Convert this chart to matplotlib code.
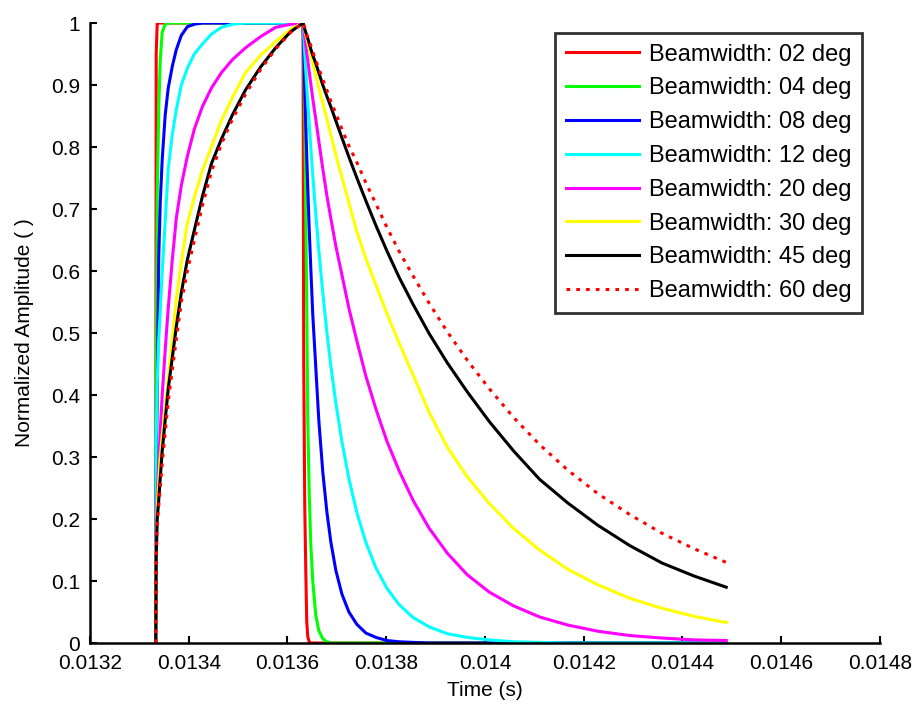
import matplotlib
matplotlib.use('Agg')
import matplotlib.pyplot as plt
from matplotlib.ticker import FormatStrFormatter
import numpy as np

plt.rcParams['font.family'] = ['Liberation Sans', 'DejaVu Sans']

# time grid (s) for the rising edge and for the decay after the peak
t_rise = [0.0133331, 0.0133341, 0.0133362, 0.0133392, 0.0133423, 0.0133463,
          0.0133524, 0.0133585, 0.0133667, 0.0133748, 0.0133850, 0.0133972,
          0.0134114, 0.0134276, 0.0134459, 0.0134663, 0.0134886, 0.0135150,
          0.0135455, 0.0135760, 0.0136065, 0.0136315]
t_decay = [0.0136329, 0.0136350, 0.0136370, 0.0136390, 0.0136411, 0.0136441,
           0.0136472, 0.0136512, 0.0136573, 0.0136634, 0.0136715, 0.0136797,
           0.0136878, 0.0136980, 0.0137102, 0.0137244, 0.0137406, 0.0137589,
           0.0137793, 0.0138016, 0.0138260, 0.0138545, 0.0138870, 0.0139236,
           0.0139642, 0.0140089, 0.0140577, 0.0141106, 0.0141675, 0.0142284,
           0.0142935, 0.0143585, 0.0144236, 0.0144886]

labels = ['Beamwidth: 02 deg', 'Beamwidth: 04 deg', 'Beamwidth: 08 deg',
          'Beamwidth: 12 deg', 'Beamwidth: 20 deg', 'Beamwidth: 30 deg',
          'Beamwidth: 45 deg', 'Beamwidth: 60 deg']

#rise values
rise02 = [0, 0.95] + [1]*20
rise04 = [0, 0.45, 0.72, 0.86, 0.94, 0.985, 0.998] + [1]*15
rise08 = [0, 0.28, 0.40, 0.62, 0.71, 0.78, 0.852, 0.895, 0.93, 0.957, 0.98,
          0.994, 0.998] + [1]*9
rise12 = [0, 0.33, 0.42, 0.49, 0.535, 0.60, 0.68, 0.765, 0.82, 0.86, 0.90,
          0.927, 0.95, 0.966, 0.982, 0.993, 0.998] + [1]*5
rise20 = [0, 0.19, 0.24, 0.29, 0.34, 0.40, 0.473, 0.54, 0.618, 0.685, 0.738,
          0.785, 0.829, 0.865, 0.895, 0.92, 0.941, 0.96, 0.978, 0.993, 0.998, 1]
rise30 = [0, 0.15, 0.22, 0.26, 0.30, 0.335, 0.38, 0.427, 0.49, 0.554, 0.614,
          0.677, 0.719, 0.762, 0.80, 0.843, 0.88, 0.92, 0.948, 0.97, 0.99, 1]
rise45 = [0, 0.14, 0.20, 0.23, 0.266, 0.31, 0.36, 0.41, 0.46, 0.51, 0.565,
          0.618, 0.666, 0.72, 0.773, 0.813, 0.852, 0.892, 0.929, 0.96, 0.986, 1]
rise60 = [0, 0.13, 0.19, 0.22, 0.25, 0.29, 0.34, 0.39, 0.44, 0.49, 0.55,
          0.60, 0.65, 0.705, 0.76, 0.805, 0.845, 0.885, 0.925, 0.958, 0.985, 1]

#decay values
decay02 = [0.45, 0.22, 0.12, 0.035, 0.01, 0.002] + [0]*28
decay04 = [0.95, 0.85, 0.70, 0.55, 0.36, 0.24, 0.16, 0.10, 0.045, 0.02,
           0.007, 0.002] + [0]*22
decay08 = [0.956, 0.893, 0.837, 0.785, 0.734, 0.666, 0.605, 0.53, 0.445,
           0.36, 0.276, 0.212, 0.163, 0.117, 0.079, 0.05, 0.03, 0.016, 0.009,
           0.004, 0.002, 0.001] + [0]*12
decay12 = [0.98, 0.951, 0.924, 0.898, 0.872, 0.835, 0.80, 0.755, 0.692, 0.634,
           0.565, 0.502, 0.447, 0.387, 0.325, 0.265, 0.21, 0.162, 0.121, 0.088,
           0.062, 0.041, 0.026, 0.015, 0.009, 0.005, 0.002, 0.001] + [0]*6
decay20 = [0.99, 0.978, 0.965, 0.952, 0.94, 0.921, 0.902, 0.878, 0.845, 0.81,
           0.765, 0.722, 0.685, 0.64, 0.594, 0.54, 0.487, 0.43, 0.377, 0.325,
           0.278, 0.23, 0.185, 0.145, 0.11, 0.082, 0.06, 0.042, 0.029, 0.019,
           0.012, 0.008, 0.005, 0.004]
decay30 = [0.995, 0.988, 0.981, 0.975, 0.968, 0.958, 0.948, 0.935, 0.915,
           0.896, 0.871, 0.846, 0.82, 0.787, 0.752, 0.71, 0.663, 0.62, 0.577,
           0.531, 0.484, 0.432, 0.372, 0.316, 0.268, 0.225, 0.185, 0.15, 0.119,
           0.094, 0.072, 0.056, 0.043, 0.033]
decay45 = [0.997, 0.99, 0.985, 0.98, 0.975, 0.967, 0.958, 0.948, 0.935, 0.92,
           0.90, 0.882, 0.865, 0.842, 0.815, 0.784, 0.75, 0.713, 0.673, 0.632,
           0.59, 0.546, 0.499, 0.452, 0.405, 0.357, 0.31, 0.264, 0.226, 0.19,
           0.157, 0.129, 0.108, 0.09]
decay60 = [0.997, 0.992, 0.987, 0.982, 0.977, 0.97, 0.964, 0.954, 0.94,
           0.927, 0.909, 0.892, 0.874, 0.854, 0.829, 0.802, 0.775, 0.742,
           0.708, 0.67, 0.632, 0.592, 0.548, 0.502, 0.456, 0.41, 0.364, 0.32,
           0.279, 0.241, 0.207, 0.177, 0.152, 0.13]

rises = [rise02, rise04, rise08, rise12, rise20, rise30, rise45, rise60]
decays = [decay02, decay04, decay08, decay12, decay20, decay30, decay45, decay60]
colors = ['#ff0000', '#00ff00', '#0000ff', '#00ffff', '#ff00ff', '#ffff00',
          '#000000', '#ff0000']
styles = ['-']*7 + [(0, (1.2, 2.0))]

t = np.array(t_rise + t_decay)

fig = plt.figure(figsize=(9.2, 7.08), dpi=100)
ax = fig.add_axes([0.0978, 0.0918, 0.8587, 0.8757])

for r, d, c, ls, lab in zip(rises, decays, colors, styles, labels):
    ax.plot(t, np.array(r + d), color=c, linestyle=ls, lw=2.2, label=lab)

ax.set_xlim(0.0132, 0.0148)
ax.set_ylim(0, 1)
ax.set_xticks(np.arange(0.0132, 0.01481, 0.0002))
ax.set_yticks(np.arange(0, 1.01, 0.1))
ax.xaxis.set_major_formatter(FormatStrFormatter('%g'))
ax.yaxis.set_major_formatter(FormatStrFormatter('%g'))
ax.tick_params(direction='in', length=5, width=1.5, labelsize=15)
ax.tick_params(axis='x', pad=8)
ax.tick_params(axis='y', pad=7)
ax.spines['top'].set_visible(False)
ax.spines['right'].set_visible(False)
ax.spines['left'].set_linewidth(1.8)
ax.spines['bottom'].set_linewidth(1.8)

ax.set_xlabel('Time (s)', fontsize=15, labelpad=6)
ax.set_ylabel('Normalized Amplitude ( )', fontsize=15, labelpad=12)

leg = ax.legend(loc='upper right', bbox_to_anchor=(0.977, 0.984),
                borderaxespad=0, fancybox=False, fontsize=17,
                handlelength=3.1, labelspacing=0.5, handletextpad=0.4,
                borderpad=0.45)
leg.get_frame().set_edgecolor('black')
leg.get_frame().set_linewidth(2.0)

fig.savefig('out.png', dpi=100)
